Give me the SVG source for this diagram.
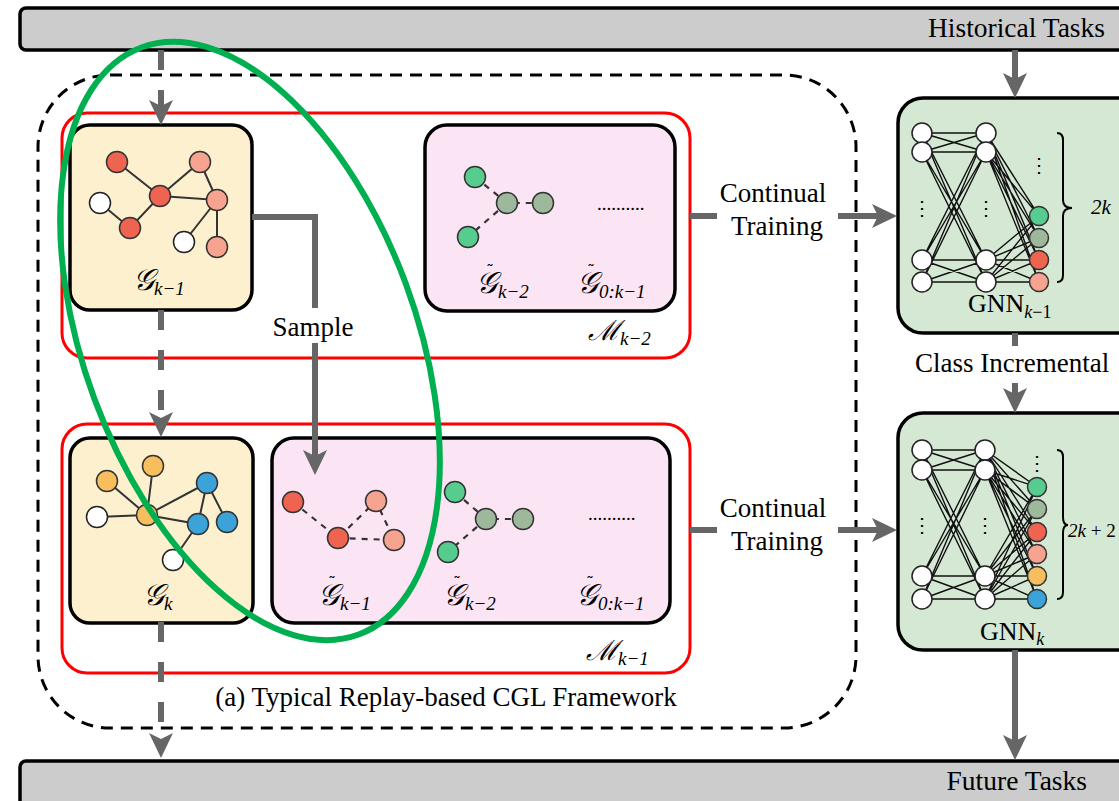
<svg xmlns="http://www.w3.org/2000/svg" width="1119" height="801" viewBox="0 0 1119 801">
<defs>
<style>
.bar{fill:#cccccc;stroke:#000;stroke-width:3.5}
.t{font-family:"Liberation Serif","Times New Roman",serif;fill:#000}
.m{font-family:"DejaVu Serif","Liberation Serif",serif;font-style:italic;fill:#000}
.sub{font-family:"Liberation Serif",serif;font-style:italic;font-size:19px}
.mi{font-family:"Liberation Serif",serif;font-style:italic}
.tl{font-family:"DejaVu Sans",sans-serif;font-size:16px;font-style:normal}
.frame{fill:none;stroke:#000;stroke-width:3;stroke-dasharray:12 8}
.red{fill:none;stroke:#ff0000;stroke-width:3}
.gbox{fill:#fdf0cf;stroke:#000;stroke-width:3.5}
.mbox{fill:#fbe4f3;stroke:#000;stroke-width:3.5}
.nbox{fill:#d5e8d4;stroke:#000;stroke-width:3.5}
.n{stroke:#333;stroke-width:1.5}
.w{fill:#fff;stroke:#222;stroke-width:1.5}
.e{stroke:#333;stroke-width:2;fill:none}
.de{stroke:#333;stroke-width:2.2;stroke-dasharray:6 6;fill:none}
.nn{stroke:#111;stroke-width:1.4;fill:none}
.arr{stroke:#666;stroke-width:6;fill:none}
.darr{stroke:#666;stroke-width:6;fill:none;stroke-dasharray:20 20}
.brace{stroke:#000;stroke-width:2;fill:none}
.r{fill:#ef6351}.s{fill:#f6a38f}.g{fill:#57cc8f}.gg{fill:#9db89b}.o{fill:#f7be5d}.b{fill:#3ca3d8}
</style>
<marker id="ah" markerUnits="userSpaceOnUse" markerWidth="26" markerHeight="26" viewBox="0 0 26 26" refX="7" refY="13" orient="auto"><path d="M0,1 L25,13 L0,25 L6,13 z" fill="#666"/></marker>
</defs>

<g id="historical-tasks">
<rect class="bar" x="20" y="8" width="1120" height="42" rx="6"/>
<text class="t" x="1105" y="37" font-size="27.5" text-anchor="end">Historical Tasks</text>
</g>
<g id="future-tasks">
<rect class="bar" x="20" y="761" width="1120" height="60" rx="6"/>
<text class="t" x="1087" y="790" font-size="27.5" text-anchor="end">Future Tasks</text>
</g>

<g id="framework">
<rect class="frame" x="38" y="75" width="818" height="653" rx="72"/>
<text class="t" x="446" y="706" font-size="27" text-anchor="middle">(a) Typical Replay-based CGL Framework</text>
</g>

<g id="memory-k-2">
<rect class="red" x="62" y="113" width="628" height="245" rx="25"/>
<text class="m" x="588" y="340" font-size="28">ℳ<tspan class="sub" dy="5">k−2</tspan></text>
</g>
<g id="memory-k-1">
<rect class="red" x="62" y="424" width="628" height="249" rx="25"/>
<text class="m" x="586" y="660" font-size="28">ℳ<tspan class="sub" dy="5">k−1</tspan></text>
</g>

<g id="graph-k-1">
<rect class="gbox" x="70" y="125" width="182" height="185" rx="20"/>
<path class="e" d="M117,162 L160,196 L200,162 L217,200 L160,196 M100,203 L130,228 L160,196 M217,200 L184,242 M217,200 L217,247"/>
<circle class="n r" cx="117" cy="162" r="10.5"/>
<circle class="n s" cx="200" cy="162" r="10.5"/>
<circle class="n r" cx="160" cy="196" r="10.5"/>
<circle class="n s" cx="217" cy="200" r="10.5"/>
<circle class="w" cx="100" cy="203" r="10.5"/>
<circle class="n r" cx="130" cy="228" r="10.5"/>
<circle class="w" cx="184" cy="242" r="10.5"/>
<circle class="n s" cx="217" cy="247" r="10.5"/>
<text class="m" x="133" y="290" font-size="30">𝒢<tspan class="sub" dy="5">k−1</tspan></text>
</g>

<g id="graph-k">
<rect class="gbox" x="70" y="438" width="183" height="185" rx="20"/>
<path class="e" d="M107,481 L147,515 M153,466 L147,515 M97,517 L147,515 L207,483 M147,515 L198,524 L207,483 L227,522 M198,524 L173,560"/>
<circle class="n o" cx="107" cy="481" r="10.5"/>
<circle class="n o" cx="153" cy="466" r="10.5"/>
<circle class="n b" cx="207" cy="483" r="10.5"/>
<circle class="w" cx="97" cy="517" r="10.5"/>
<circle class="n o" cx="147" cy="515" r="10.5"/>
<circle class="n b" cx="198" cy="524" r="10.5"/>
<circle class="n b" cx="227" cy="522" r="10.5"/>
<circle class="w" cx="173" cy="560" r="10.5"/>
<text class="m" x="143" y="605" font-size="30">𝒢<tspan class="sub" dy="5">k</tspan></text>
</g>

<g id="replay-k-2">
<rect class="mbox" x="425" y="125" width="250" height="186" rx="22"/>
<path class="de" d="M475,177 L507,203 L543,203 M507,203 L468,237"/>
<circle class="n g" cx="475" cy="177" r="10.5"/>
<circle class="n gg" cx="507" cy="203" r="10.5"/>
<circle class="n gg" cx="543" cy="203" r="10.5"/>
<circle class="n g" cx="468" cy="237" r="10.5"/>
<text class="t" x="597" y="210" font-size="19">..........</text>
<text class="m" x="476" y="293" font-size="30">𝒢<tspan class="tl" dx="-11" dy="-17">˜</tspan><tspan class="sub" dx="4" dy="22">k−2</tspan></text>
<text class="m" x="577" y="293" font-size="30">𝒢<tspan class="tl" dx="-11" dy="-17">˜</tspan><tspan class="sub" dx="4" dy="22">0:k−1</tspan></text>
</g>

<g id="replay-k-1">
<rect class="mbox" x="272" y="438" width="398" height="185" rx="22"/>
<path class="de" d="M293,502 L338,538 L376,501 L394,540 L338,538"/>
<path class="de" d="M455,492 L486,519 L523,519 M486,519 L448,552"/>
<circle class="n r" cx="293" cy="502" r="10.5"/>
<circle class="n r" cx="338" cy="538" r="10.5"/>
<circle class="n s" cx="376" cy="501" r="10.5"/>
<circle class="n s" cx="394" cy="540" r="10.5"/>
<circle class="n g" cx="455" cy="492" r="10.5"/>
<circle class="n gg" cx="486" cy="519" r="10.5"/>
<circle class="n gg" cx="523" cy="519" r="10.5"/>
<circle class="n g" cx="448" cy="552" r="10.5"/>
<text class="t" x="588" y="520" font-size="19">..........</text>
<text class="m" x="318" y="605" font-size="30">𝒢<tspan class="tl" dx="-11" dy="-17">˜</tspan><tspan class="sub" dx="4" dy="22">k−1</tspan></text>
<text class="m" x="443" y="605" font-size="30">𝒢<tspan class="tl" dx="-11" dy="-17">˜</tspan><tspan class="sub" dx="4" dy="22">k−2</tspan></text>
<text class="m" x="576" y="605" font-size="30">𝒢<tspan class="tl" dx="-11" dy="-17">˜</tspan><tspan class="sub" dx="4" dy="22">0:k−1</tspan></text>
</g>

<g id="gnn-k-1">
<rect class="nbox" x="898" y="98" width="260" height="235" rx="25"/>
<path class="nn" d="M922 133L986 133M922 133L986 152M922 133L986 260M922 133L986 282M922 152L986 133M922 152L986 152M922 152L986 260M922 152L986 282M922 260L986 133M922 260L986 152M922 260L986 260M922 260L986 282M922 282L986 133M922 282L986 152M922 282L986 260M922 282L986 282"/>
<path class="nn" stroke-width="1.1" d="M986 133L1039 216M986 133L1039 238M986 133L1039 260M986 133L1039 282M986 152L1039 216M986 152L1039 238M986 152L1039 260M986 152L1039 282M986 260L1039 216M986 260L1039 238M986 260L1039 260M986 260L1039 282M986 282L1039 216M986 282L1039 238M986 282L1039 260M986 282L1039 282"/>
<circle class="w" cx="922" cy="133" r="10"/><circle class="w" cx="922" cy="152" r="10"/><circle class="w" cx="922" cy="260" r="10"/><circle class="w" cx="922" cy="282" r="10"/>
<circle class="w" cx="986" cy="133" r="10"/><circle class="w" cx="986" cy="152" r="10"/><circle class="w" cx="986" cy="260" r="10"/><circle class="w" cx="986" cy="282" r="10"/>
<circle class="n g" cx="1039" cy="216" r="9.5"/><circle class="n gg" cx="1039" cy="238" r="9.5"/><circle class="n r" cx="1039" cy="260" r="9.5"/><circle class="n s" cx="1039" cy="282" r="9.5"/>
<text class="t" x="922" y="215" font-size="20" text-anchor="middle">⋮</text>
<text class="t" x="986" y="215" font-size="20" text-anchor="middle">⋮</text>
<text class="t" x="1039" y="172" font-size="20" text-anchor="middle">⋮</text>
<path class="brace" d="M1057,133 Q1063,133 1063,140 V200 Q1063,208 1072,208 Q1063,208 1063,216 V275 Q1063,282 1057,282"/>
<text class="mi" x="1091" y="214" font-size="21">2<tspan>k</tspan></text>
<text class="t" x="968" y="312" font-size="26">GNN<tspan class="mi" font-size="18" dy="6">k</tspan><tspan font-size="18">−1</tspan></text>
</g>

<g id="gnn-k">
<rect class="nbox" x="898" y="413" width="260" height="237" rx="25"/>
<path class="nn" d="M922 450L985 450M922 450L985 470M922 450L985 576M922 450L985 599M922 470L985 450M922 470L985 470M922 470L985 576M922 470L985 599M922 576L985 450M922 576L985 470M922 576L985 576M922 576L985 599M922 599L985 450M922 599L985 470M922 599L985 576M922 599L985 599"/>
<path class="nn" stroke-width="1.1" d="M985 450L1037 487M985 450L1037 509M985 450L1037 532M985 450L1037 554M985 450L1037 576M985 450L1037 599M985 470L1037 487M985 470L1037 509M985 470L1037 532M985 470L1037 554M985 470L1037 576M985 470L1037 599M985 576L1037 487M985 576L1037 509M985 576L1037 532M985 576L1037 554M985 576L1037 576M985 576L1037 599M985 599L1037 487M985 599L1037 509M985 599L1037 532M985 599L1037 554M985 599L1037 576M985 599L1037 599"/>
<circle class="w" cx="922" cy="450" r="10"/><circle class="w" cx="922" cy="470" r="10"/><circle class="w" cx="922" cy="576" r="10"/><circle class="w" cx="922" cy="599" r="10"/>
<circle class="w" cx="985" cy="450" r="10"/><circle class="w" cx="985" cy="470" r="10"/><circle class="w" cx="985" cy="576" r="10"/><circle class="w" cx="985" cy="599" r="10"/>
<circle class="n g" cx="1037" cy="487" r="9.5"/><circle class="n gg" cx="1037" cy="509" r="9.5"/><circle class="n r" cx="1037" cy="532" r="9.5"/><circle class="n s" cx="1037" cy="554" r="9.5"/><circle class="n o" cx="1037" cy="576" r="9.5"/><circle class="n b" cx="1037" cy="599" r="9.5"/>
<text class="t" x="922" y="532" font-size="20" text-anchor="middle">⋮</text>
<text class="t" x="985" y="532" font-size="20" text-anchor="middle">⋮</text>
<text class="t" x="1037" y="470" font-size="20" text-anchor="middle">⋮</text>
<path class="brace" d="M1057,450 Q1063,450 1063,457 V517 Q1063,525 1068,525 Q1063,525 1063,533 V592 Q1063,599 1057,599"/>
<text class="mi" x="1068" y="537" font-size="19">2<tspan>k</tspan><tspan font-style="normal"> + 2</tspan></text>
<text class="t" x="980" y="640" font-size="26">GNN<tspan class="mi" font-size="18" dy="5">k</tspan></text>
</g>

<g id="connectors">
<path class="darr" d="M161,50 V107" marker-end="url(#ah)"/>
<path class="darr" d="M161,310 V419" marker-end="url(#ah)"/>
<path class="darr" d="M161,622 V740" marker-end="url(#ah)"/>
<path class="arr" d="M252,217 H315 V308" stroke-width="5.5"/>
<path class="arr" d="M315,343 V457" stroke-width="5.5" marker-end="url(#ah)"/>
<path class="arr" d="M690,216 H717"/>
<path class="arr" d="M838,216 H879" marker-end="url(#ah)"/>
<path class="arr" d="M690,530 H717"/>
<path class="arr" d="M838,530 H879" marker-end="url(#ah)"/>
<path class="arr" d="M1015,50 V80" marker-end="url(#ah)"/>
<path class="arr" d="M1015,333 V346"/>
<path class="arr" d="M1015,383 V395" marker-end="url(#ah)"/>
<path class="arr" d="M1015,650 V742" marker-end="url(#ah)"/>
<text class="t" x="313" y="336" font-size="27" text-anchor="middle">Sample</text>
<text class="t" x="773" y="202" font-size="27" text-anchor="middle">Continual</text>
<text class="t" x="777" y="235" font-size="27" text-anchor="middle">Training</text>
<text class="t" x="773" y="517" font-size="27" text-anchor="middle">Continual</text>
<text class="t" x="777" y="550" font-size="27" text-anchor="middle">Training</text>
<text class="t" x="915" y="372" font-size="27">Class Incremental</text>
</g>

<g id="highlight">
<ellipse cx="250" cy="341" rx="313" ry="166" transform="rotate(69.7 250 341)" fill="none" stroke="#00b050" stroke-width="6"/>
</g>
</svg>
